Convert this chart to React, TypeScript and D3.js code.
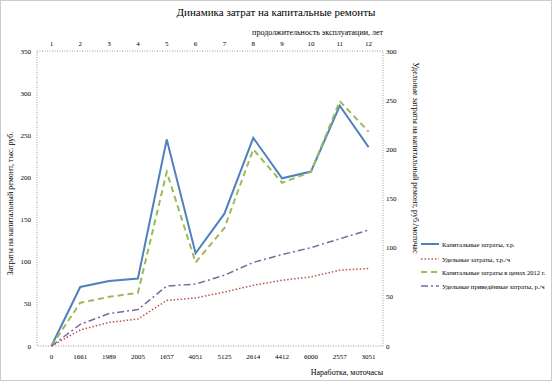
import React from "react";
import * as d3 from "d3";

const categories = ["0", "1661", "1989", "2005", "1657", "4051", "5125", "2614", "4412", "6000", "2557", "3051"];
const topLabels = ["1", "2", "3", "4", "5", "6", "7", "8", "9", "10", "11", "12"];
const leftTicks = [0, 50, 100, 150, 200, 250, 300, 350];
const rightTicks = [0, 50, 100, 150, 200, 250, 300];

const blueValues = [0, 70, 77, 80, 245, 110, 157, 247, 199, 207, 285, 236];
const redValues = [0, 19, 28, 32, 54, 57, 64, 72, 78, 82, 90, 92];
const greenValues = [0, 44, 50, 54, 177, 85, 120, 200, 166, 177, 249, 218];
const purpleValues = [0, 22, 33, 37, 61, 63, 72, 85, 93, 100, 109, 118];

const seriesNames = [
  "Капитальные затраты, т.р.",
  "Удельные затраты, т.р./ч",
  "Капитальные затраты в ценах 2012 г.",
  "Удельные приведённые затраты, р./ч",
];

const title = "Динамика затрат на капитальные ремонты";
const topTitle = "продолжительность эксплуатации, лет";
const bottomTitle = "Наработка, моточасы";
const leftTitle = "Затраты на капитальный ремонт, тыс. руб.";
const rightTitle = "Удельные затраты на капитальный ремонт, руб./моточас";

export default function App() {
  const W = 552, H = 381;
  const L = 37, R = 383, T = 51, B = 346;
  const font = "'Liberation Serif', 'Times New Roman', serif";

  const x = d3.scalePoint<string>().domain(categories).range([L, R]).padding(0.5);
  const yL = d3.scaleLinear().domain([0, 350]).range([B, T]);
  const yR = d3.scaleLinear().domain([0, 300]).range([B, T]);

  const mk = (vals: number[], y: d3.ScaleLinear<number, number>) =>
    d3.line<number>().x((_, i) => x(categories[i]) as number).y((v) => y(v))(vals) as string;

  const series = [
    { name: seriesNames[0], d: mk(blueValues, yL), color: "#4F81BD", dash: "", w: 2 },
    { name: seriesNames[1], d: mk(redValues, yL), color: "#C0504D", dash: "1.5 2", w: 1.5 },
    { name: seriesNames[2], d: mk(greenValues, yR), color: "#9BBB59", dash: "6 4", w: 2 },
    { name: seriesNames[3], d: mk(purpleValues, yR), color: "#8064A2", dash: "7 3 2 3", w: 1.5 },
  ];

  const legendX = 421;
  const legendY = [244, 259, 272, 286];

  return (
    <svg width={W} height={H} style={{ position: "absolute", left: 0, top: 0, background: "#fff" }} fontFamily={font}>
      <rect x={0.5} y={0.5} width={W - 1} height={H - 1} fill="#fff" stroke="#999" strokeDasharray="1 1" />
      <text x={276} y={16} textAnchor="middle" fontSize={11}>{title}</text>
      <text x={383} y={35} textAnchor="end" fontSize={8}>{topTitle}</text>
      <rect x={L} y={T} width={R - L} height={B - T} fill="none" stroke="#999" strokeDasharray="1 1.5" />
      {categories.map((c, i) => (
        <g key={c + i}>
          <text x={x(c)} y={359} textAnchor="middle" fontSize={7}>{c}</text>
          <text x={x(c)} y={46} textAnchor="middle" fontSize={7}>{topLabels[i]}</text>
        </g>
      ))}
      {leftTicks.map((t) => (
        <text key={"l" + t} x={31} y={yL(t) + 2.5} textAnchor="end" fontSize={7}>{t}</text>
      ))}
      {rightTicks.map((t) => (
        <text key={"r" + t} x={386} y={yR(t) + 2.5} textAnchor="start" fontSize={7}>{t}</text>
      ))}
      <text transform={`translate(13,${(T + B) / 2 + 5}) rotate(-90)`} textAnchor="middle" fontSize={8}>{leftTitle}</text>
      <text transform={`translate(413,158) rotate(90)`} textAnchor="middle" fontSize={8}>{rightTitle}</text>
      <text x={383} y={375} textAnchor="end" fontSize={8}>{bottomTitle}</text>
      {series.map((s) => (
        <path key={s.name} d={s.d} fill="none" stroke={s.color} strokeWidth={s.w} strokeDasharray={s.dash || undefined} />
      ))}
      {series.map((s, i) => (
        <g key={"lg" + i}>
          <line x1={legendX} x2={legendX + 18} y1={legendY[i]} y2={legendY[i]} stroke={s.color} strokeWidth={s.w} strokeDasharray={s.dash || undefined} />
          <text x={legendX + 21} y={legendY[i] + 2.5} fontSize={6.6}>{s.name}</text>
        </g>
      ))}
    </svg>
  );
}
